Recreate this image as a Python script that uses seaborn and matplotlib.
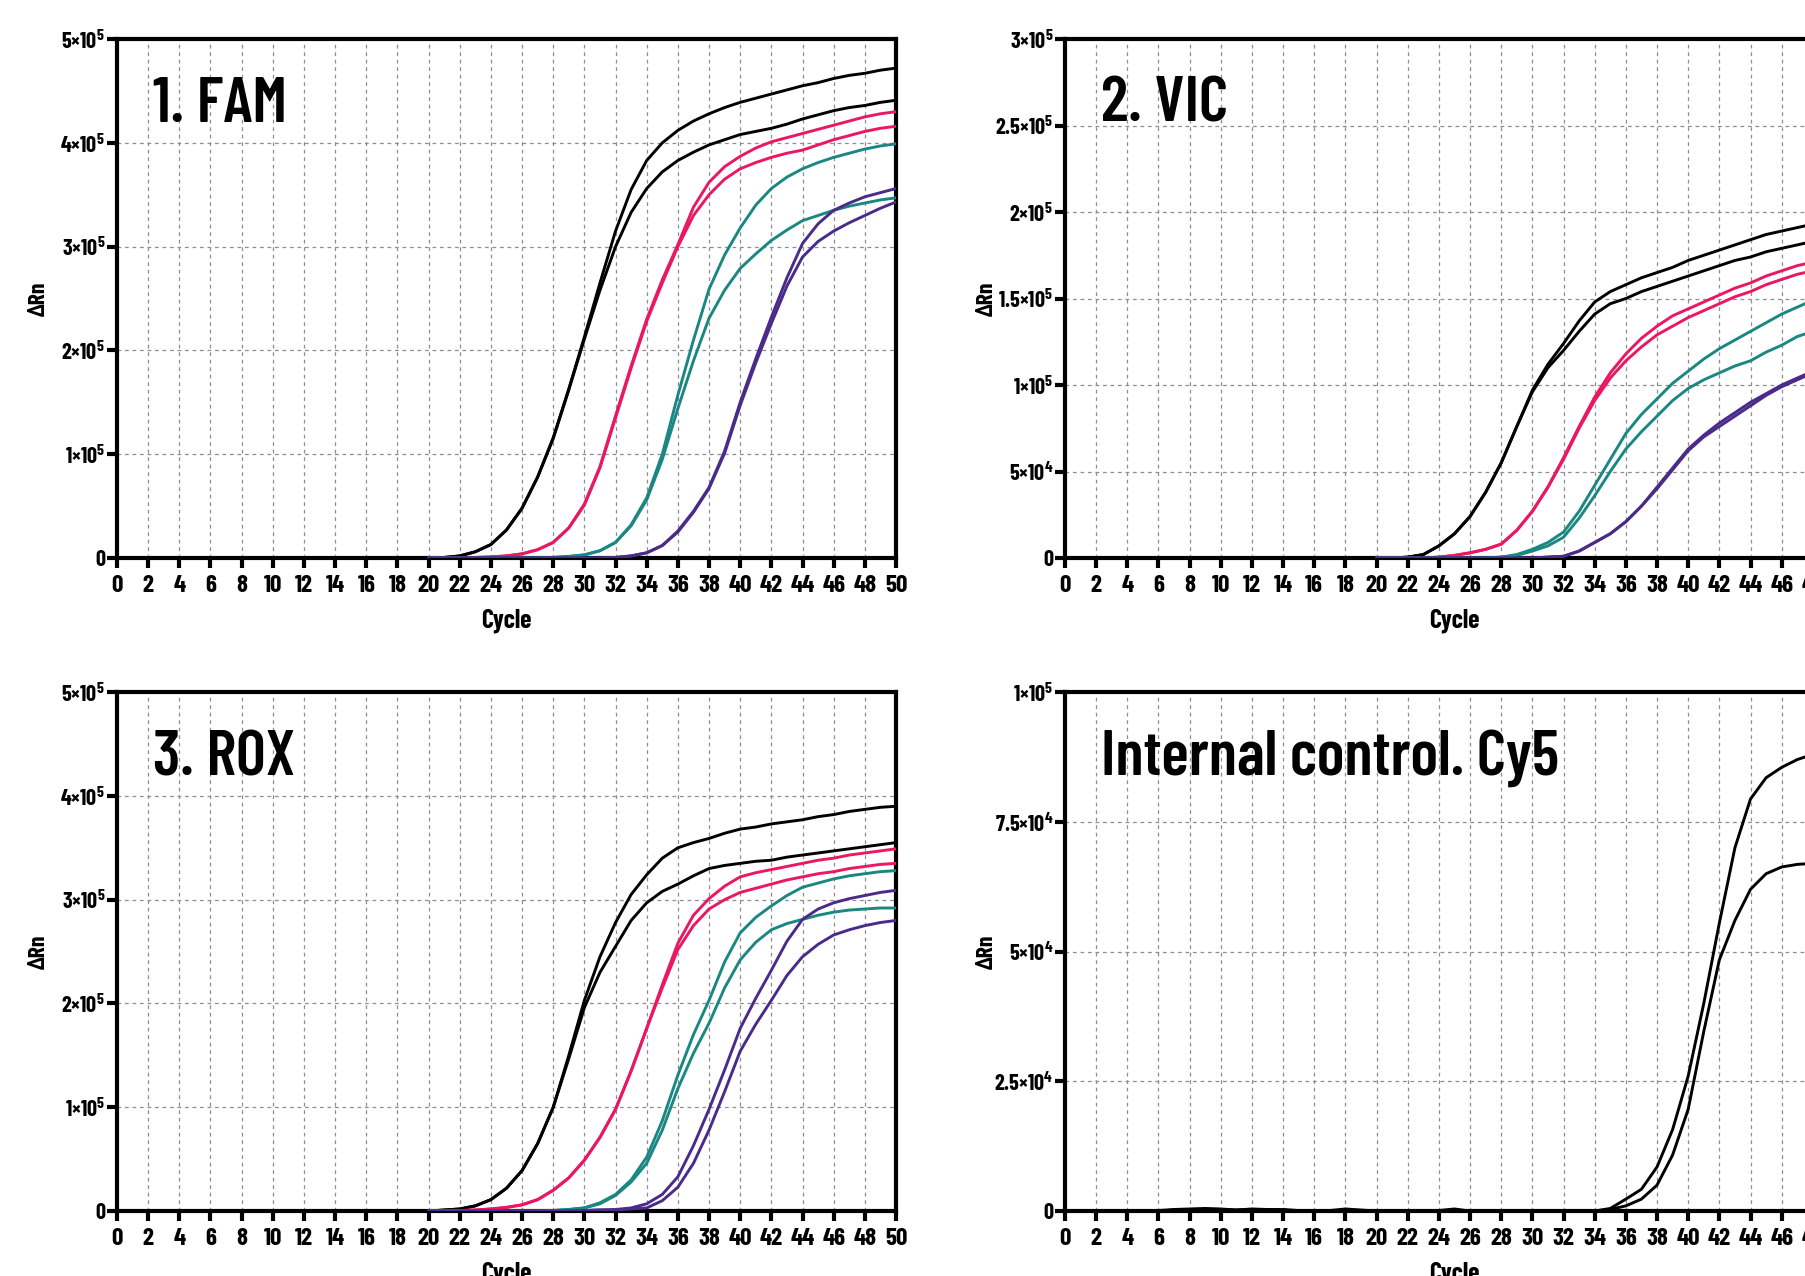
import numpy as np
import pandas as pd
import matplotlib
matplotlib.use("Agg")
import matplotlib.pyplot as plt
import seaborn as sns

# cycles covered by the amplification curves (baseline is flat before 20)
cycles = list(range(20, 51))
cycles_full = list(range(1, 51))

# values in thousands of dRn
fam_black_a = [0, 0.5, 2, 6, 13, 27, 48, 78, 116, 163, 213, 265, 315, 355, 383, 400, 412, 421, 428, 434, 439, 443, 447, 451, 455, 458, 462, 465, 467, 470, 472]
fam_black_b = [0, 0.5, 2, 6, 13, 27, 48, 78, 115, 162, 211, 258, 300, 333, 356, 372, 383, 391, 398, 403, 408, 411, 414, 418, 423, 427, 431, 434, 436, 439, 441]
fam_magenta_a = [0, 0, 0, 0.5, 1, 2, 4, 8, 15, 29, 52, 88, 137, 185, 230, 268, 302, 338, 362, 377, 387, 395, 401, 405, 409, 413, 417, 421, 425, 428, 430]
fam_magenta_b = [0, 0, 0, 0.5, 1, 2, 4, 8, 15, 29, 51, 87, 135, 183, 228, 265, 300, 330, 350, 365, 375, 381, 386, 390, 393, 398, 403, 407, 411, 414, 416]
fam_teal_a = [0, 0, 0, 0, 0, 0, 0, 0, 0.5, 1.5, 3, 7, 15, 32, 58, 100, 157, 210, 259, 292, 318, 340, 356, 367, 375, 381, 386, 390, 394, 397, 399]
fam_teal_b = [0, 0, 0, 0, 0, 0, 0, 0, 0.5, 1.5, 3, 7, 15, 31, 56, 95, 144, 190, 231, 258, 279, 293, 306, 316, 325, 330, 335, 339, 342, 345, 347]
fam_purple_a = [0, 0, 0, 0, 0, 0, 0, 0, 0, 0, 0, 0, 0.5, 2, 5, 12, 26, 45, 68, 103, 150, 192, 232, 270, 303, 322, 335, 342, 348, 352, 356]
fam_purple_b = [0, 0, 0, 0, 0, 0, 0, 0, 0, 0, 0, 0, 0.5, 2, 5, 12, 25, 44, 67, 101, 147, 188, 226, 262, 290, 305, 315, 323, 330, 337, 343]

vic_black_a = [0, 0, 0.5, 2, 7, 14, 24, 38, 55, 76, 97, 112, 124, 137, 148, 154, 158, 162, 165, 168, 172, 175, 178, 181, 184, 187, 189, 191, 193, 195, 197]
vic_black_b = [0, 0, 0.5, 2, 7, 14, 24, 38, 55, 76, 96, 110, 120, 131, 141, 147, 150, 154, 157, 160, 163, 166, 169, 172, 174, 177, 179, 181, 183, 185, 187]
vic_magenta_a = [0, 0, 0, 0, 0.5, 1.5, 3, 5, 8, 16, 27, 41, 58, 76, 93, 107, 118, 127, 134, 140, 144, 148, 152, 156, 159, 163, 166, 169, 171, 173, 175]
vic_magenta_b = [0, 0, 0, 0, 0.5, 1.5, 3, 5, 8, 16, 27, 41, 57, 75, 91, 104, 114, 122, 129, 134, 139, 143, 147, 151, 154, 158, 161, 164, 166, 168, 170]
vic_teal_a = [0, 0, 0, 0, 0, 0, 0, 0, 0.5, 2, 5, 9, 15, 27, 42, 57, 72, 83, 92, 101, 108, 115, 121, 126, 131, 136, 141, 145, 149, 152, 155]
vic_teal_b = [0, 0, 0, 0, 0, 0, 0, 0, 0.5, 1.5, 4, 7, 12, 23, 36, 50, 63, 73, 82, 91, 98, 103, 107, 111, 114, 119, 123, 128, 131, 134, 137]
vic_purple_a = [0, 0, 0, 0, 0, 0, 0, 0, 0, 0, 0, 0.5, 1, 4, 9, 14, 21, 30, 41, 52, 63, 71, 78, 84, 90, 95, 100, 104, 108, 111, 114]
vic_purple_b = [0, 0, 0, 0, 0, 0, 0, 0, 0, 0, 0, 0.5, 1, 4, 9, 14, 21, 30, 40, 51, 62, 70, 76, 82, 88, 94, 99, 103, 107, 110, 113]

rox_black_a = [0, 1, 2, 5, 11, 22, 39, 65, 100, 150, 203, 245, 278, 305, 324, 340, 350, 355, 359, 364, 368, 370, 373, 375, 377, 380, 382, 385, 387, 389, 390]
rox_black_b = [0, 1, 2, 5, 11, 22, 39, 65, 100, 147, 196, 230, 255, 280, 297, 308, 315, 323, 330, 333, 335, 337, 338, 341, 343, 345, 347, 349, 351, 353, 355]
rox_magenta_a = [0, 0, 0.5, 1, 2, 3.5, 6, 11, 20, 32, 49, 71, 98, 135, 176, 218, 258, 285, 301, 313, 322, 326, 329, 332, 335, 338, 340, 343, 345, 347, 349]
rox_magenta_b = [0, 0, 0.5, 1, 2, 3.5, 6, 11, 20, 32, 49, 71, 98, 135, 176, 215, 252, 275, 291, 300, 307, 311, 315, 319, 322, 325, 327, 330, 332, 334, 335]
rox_teal_a = [0, 0, 0, 0, 0, 0, 0, 0, 0.5, 1.5, 3, 8, 16, 30, 52, 87, 131, 170, 203, 240, 268, 283, 294, 304, 312, 316, 320, 323, 325, 327, 328]
rox_teal_b = [0, 0, 0, 0, 0, 0, 0, 0, 0.5, 1.5, 3, 7, 15, 28, 46, 78, 118, 152, 181, 215, 242, 259, 271, 277, 281, 285, 288, 290, 291, 292, 292]
rox_purple_a = [0, 0, 0, 0, 0, 0, 0, 0, 0, 0, 0.5, 1, 1.5, 3, 7, 16, 33, 63, 98, 136, 176, 205, 232, 260, 281, 291, 297, 301, 304, 307, 309]
rox_purple_b = [0, 0, 0, 0, 0, 0, 0, 0, 0, 0, 0.5, 1, 1, 2, 3, 10, 23, 46, 78, 115, 154, 180, 203, 227, 245, 257, 266, 271, 275, 278, 280]

cy5_a = [0, 0, 0, 0, 0, 0.1, 0.3, 0.4, 0.5, 0.4, 0.2, 0.4, 0.3, 0.3, 0.1, 0, 0.1, 0.4, 0.2, 0,
         0, 0, 0, 0.1, 0.4, 0, 0, 0, 0, 0, 0, 0, 0, 0, 0.5, 2.3, 4.2, 8.5, 15.7, 26,
         40, 55.5, 70, 79.4, 83.5, 85.5, 87, 88, 88.5, 89]
cy5_b = [0, 0, 0, 0, 0, 0, 0.2, 0.3, 0.3, 0.3, 0.2, 0.3, 0.2, 0.2, 0, 0, 0, 0.2, 0.1, 0,
         0, 0, 0, 0, 0.2, 0, 0, 0, 0, 0, 0, 0, 0, 0, 0.3, 1, 2.3, 5, 10.8, 19.6,
         34.6, 48.4, 56, 62, 65, 66.3, 66.8, 67, 67.1, 67.2]

fam_yticks = ['0', '1×10$^{5}$', '2×10$^{5}$', '3×10$^{5}$', '4×10$^{5}$', '5×10$^{5}$']
vic_yticks = ['0', '5×10$^{4}$', '1×10$^{5}$', '1.5×10$^{5}$', '2×10$^{5}$', '2.5×10$^{5}$', '3×10$^{5}$']
rox_yticks = ['0', '1×10$^{5}$', '2×10$^{5}$', '3×10$^{5}$', '4×10$^{5}$', '5×10$^{5}$']
cy5_yticks = ['0', '2.5×10$^{4}$', '5×10$^{4}$', '7.5×10$^{4}$', '1×10$^{5}$']

COLORS = {'black': '#000000', 'magenta': '#EA1763', 'teal': '#1A8782', 'purple': '#4A2B8A'}

sns.set_style("white")
FONTS = ['Barlow Condensed', 'Oswald', 'IBM Plex Sans Condensed', 'DejaVu Sans']
plt.rcParams['font.family'] = FONTS
plt.rcParams['font.weight'] = 'bold'
plt.rcParams['mathtext.fontset'] = 'custom'
plt.rcParams['mathtext.rm'] = 'Barlow Condensed:bold'
plt.rcParams['mathtext.it'] = 'Barlow Condensed:bold'
plt.rcParams['mathtext.bf'] = 'Barlow Condensed:bold'
plt.rcParams['mathtext.default'] = 'rm'
for key in ['text.color', 'axes.labelcolor', 'xtick.color', 'ytick.color']:
    plt.rcParams[key] = 'black'


def long_table(curves, x):
    parts = []
    for name, (color, vals) in curves.items():
        parts.append(pd.DataFrame({'Cycle': x, 'dRn': np.array(vals) * 1e3, 'curve': name}))
    return pd.concat(parts, ignore_index=True)


def draw_panel(ax, curves, x, ymax, ystep, ylabels, title):
    df = long_table(curves, x)
    palette = {name: COLORS[c] for name, (c, v) in curves.items()}
    sns.lineplot(data=df, x='Cycle', y='dRn', hue='curve', palette=palette,
                 estimator=None, linewidth=2.1, legend=False, ax=ax)
    for ln in ax.lines:
        ln.set_zorder(3)
        ln.set_solid_joinstyle('round')
    ax.set_xlim(0, 50)
    ax.set_ylim(0, ymax)
    ax.set_xticks(range(0, 51, 2))
    ax.set_yticks(np.arange(0, ymax + ystep / 2, ystep))
    ax.set_yticklabels(ylabels)
    ax.set_axisbelow(True)
    ax.grid(True, linestyle=(0, (3, 3)), color='#8e8e8e', linewidth=0.9)
    for s in ax.spines.values():
        s.set_visible(True)
        s.set_color('black')
        s.set_linewidth(3)
    ax.tick_params(axis='x', direction='out', length=7.5, width=3, labelsize=18, pad=5,
                   bottom=True, color='black')
    ax.tick_params(axis='y', direction='out', length=7, width=3, labelsize=16, pad=1.5,
                   left=True, color='black')
    ax.set_xlabel('Cycle', fontsize=18.5, fontweight='bold')
    ax.set_ylabel('ΔRn', fontsize=17, fontweight='bold')
    ax.xaxis.set_label_coords(0.5, -0.098)
    ax.yaxis.set_label_coords(-0.088, 0.5)
    ax.text(0.046, 0.872, title, transform=ax.transAxes, fontsize=46,
            fontweight='semibold', va='center', ha='left')


fig = plt.figure(figsize=(18.05, 12.76), dpi=100)
W, H = 0.4316, 0.4067
ax_fam = fig.add_axes([0.0648, 0.5627, W, H])
ax_vic = fig.add_axes([0.5900, 0.5627, W, H])
ax_rox = fig.add_axes([0.0648, 0.0509, W, H])
ax_cy5 = fig.add_axes([0.5900, 0.0509, W, H])

draw_panel(ax_fam, {
    'b1': ('black', fam_black_a), 'b2': ('black', fam_black_b),
    'm1': ('magenta', fam_magenta_a), 'm2': ('magenta', fam_magenta_b),
    't1': ('teal', fam_teal_a), 't2': ('teal', fam_teal_b),
    'p1': ('purple', fam_purple_a), 'p2': ('purple', fam_purple_b)},
    cycles, 5e5, 1e5, fam_yticks, '1. FAM')

draw_panel(ax_vic, {
    'b1': ('black', vic_black_a), 'b2': ('black', vic_black_b),
    'm1': ('magenta', vic_magenta_a), 'm2': ('magenta', vic_magenta_b),
    't1': ('teal', vic_teal_a), 't2': ('teal', vic_teal_b),
    'p1': ('purple', vic_purple_a), 'p2': ('purple', vic_purple_b)},
    cycles, 3e5, 5e4, vic_yticks, '2. VIC')

draw_panel(ax_rox, {
    'b1': ('black', rox_black_a), 'b2': ('black', rox_black_b),
    'm1': ('magenta', rox_magenta_a), 'm2': ('magenta', rox_magenta_b),
    't1': ('teal', rox_teal_a), 't2': ('teal', rox_teal_b),
    'p1': ('purple', rox_purple_a), 'p2': ('purple', rox_purple_b)},
    cycles, 5e5, 1e5, rox_yticks, '3. ROX')

draw_panel(ax_cy5, {'c1': ('black', cy5_a), 'c2': ('black', cy5_b)},
           cycles_full, 1e5, 2.5e4, cy5_yticks, 'Internal control. Cy5')

fig.savefig('out.png', dpi=100)
